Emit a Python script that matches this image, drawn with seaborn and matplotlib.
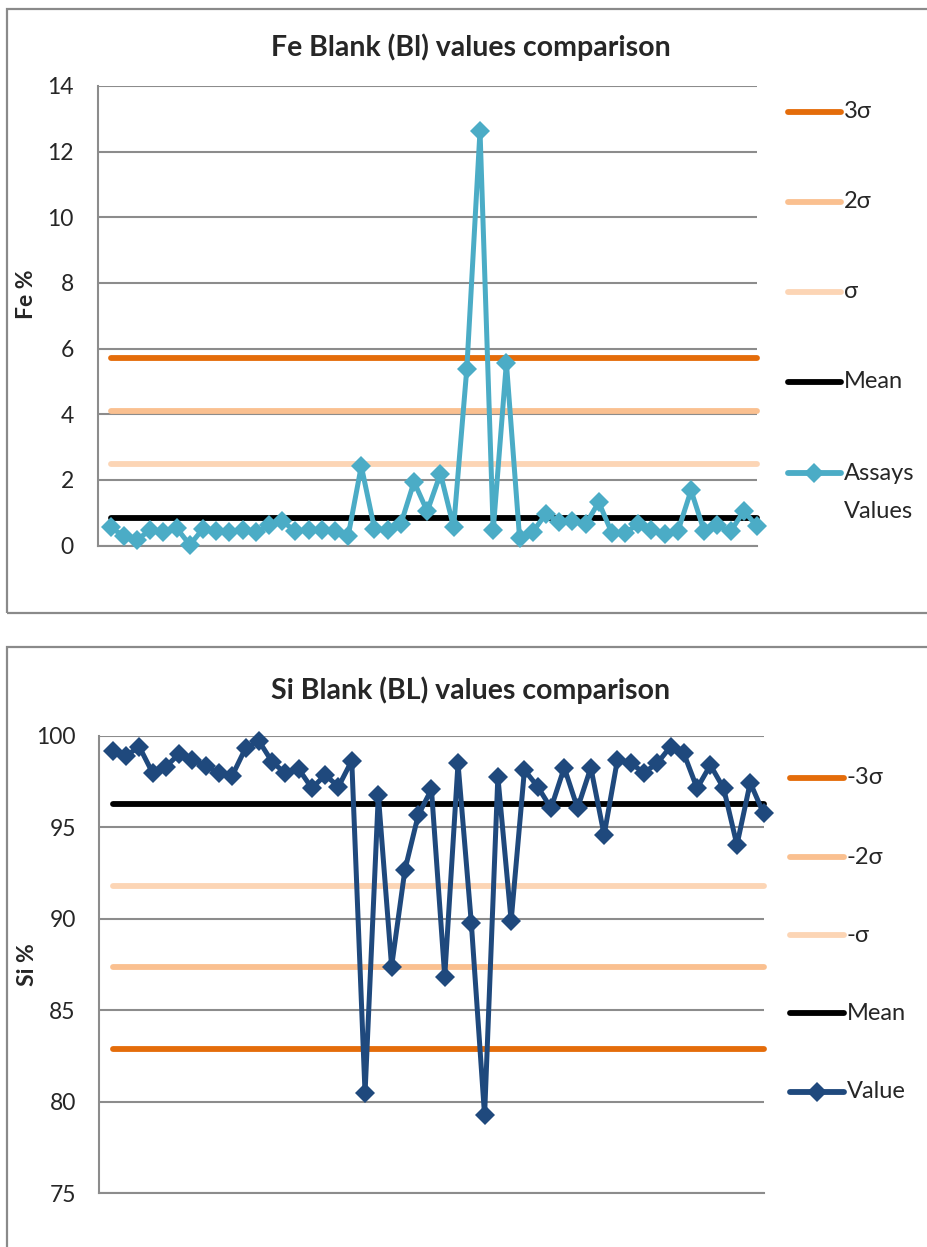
import numpy as np
import pandas as pd
import matplotlib
matplotlib.use("Agg")
import matplotlib.pyplot as plt
from matplotlib.lines import Line2D
from matplotlib.patches import Rectangle
import seaborn as sns

# ---- data -------------------------------------------------------------
sample_no = list(range(1, 51))

fe_values = [0.55, 0.29, 0.17, 0.48, 0.40, 0.53, 0.02, 0.51, 0.43, 0.40,
             0.48, 0.40, 0.61, 0.75, 0.43, 0.48, 0.46, 0.45, 0.28, 2.42,
             0.51, 0.48, 0.66, 1.94, 1.04, 2.19, 0.56, 5.39, 12.64, 0.46,
             5.57, 0.23, 0.41, 0.97, 0.71, 0.74, 0.64, 1.32, 0.38, 0.38,
             0.66, 0.46, 0.36, 0.43, 1.68, 0.43, 0.61, 0.43, 1.05, 0.59]
fe_mean = 0.85
fe_sigma = 1.62
fe_yticks = [0, 2, 4, 6, 8, 10, 12, 14]

si_values = [99.18, 98.91, 99.42, 97.99, 98.32, 99.02, 98.69, 98.38, 97.96, 97.83,
             99.33, 99.74, 98.59, 97.96, 98.20, 97.14, 97.87, 97.23, 98.65, 80.46,
             96.77, 87.39, 92.67, 95.66, 97.08, 86.84, 98.51, 89.79, 79.24, 97.78,
             89.89, 98.14, 97.23, 96.05, 98.27, 96.05, 98.27, 94.59, 98.69, 98.51,
             97.99, 98.51, 99.42, 99.05, 97.14, 98.41, 97.14, 94.04, 97.45, 95.77]
si_mean = 96.27
si_sigma = 4.46
si_yticks = [75, 80, 85, 90, 95, 100]

fe_limit_labels = ["3σ", "2σ", "σ", "Mean"]
fe_limit_levels = [fe_mean + 3 * fe_sigma, fe_mean + 2 * fe_sigma,
                   fe_mean + fe_sigma, fe_mean]
si_limit_labels = ["-3σ", "-2σ", "-σ", "Mean"]
si_limit_levels = [si_mean - 3 * si_sigma, si_mean - 2 * si_sigma,
                   si_mean - si_sigma, si_mean]

# ---- style ------------------------------------------------------------
sns.set_style("white")
plt.rcParams["font.family"] = ["Lato", "DejaVu Sans"]

limit_colors = ["#E46C0A", "#FAC090", "#FCD5B5", "#000000"]
fe_color = "#4BACC6"
si_color = "#1F497D"
grid_color = "#8C8C8C"
W, H = 928, 1247
LIMIT_LW = 4.2
DATA_LW = 3.6
MS = 10.5

fig = plt.figure(figsize=(W / 100, H / 100), dpi=100)

# chart frames
for (y0, y1) in [(9, 613), (647, 1260)]:
    fig.patches.append(Rectangle((7 / W, 1 - y1 / H), (940 - 7) / W, (y1 - y0) / H,
                                 transform=fig.transFigure, fill=False,
                                 edgecolor="#8A8A8A", linewidth=1.6, zorder=0))


def draw_chart(rect, values, levels, level_labels, color, yticks, ylabel,
               title, title_y, series_label, legend_y, label_y, legend_x):
    ax = fig.add_axes(rect)
    ax.set_facecolor("none")
    # control limit lines
    for lvl, col in zip(levels, limit_colors):
        sns.lineplot(x=[sample_no[0], sample_no[-1]], y=[lvl, lvl], ax=ax,
                     color=col, linewidth=LIMIT_LW, solid_capstyle="round",
                     zorder=3)
    # assay values
    df = pd.DataFrame({"n": sample_no, "v": values})
    sns.lineplot(data=df, x="n", y="v", ax=ax, color=color, linewidth=DATA_LW,
                 marker="D", markersize=MS, markeredgewidth=0, zorder=4)
    for ln in ax.get_lines():
        ln.set_clip_on(False)
    ax.set_xlim(0, 50)
    ax.set_ylim(yticks[0], yticks[-1])
    ax.set_yticks(yticks)
    ax.set_xticks([])
    ax.set_xlabel("")
    ax.set_ylabel(ylabel, fontsize=16.5, fontweight="bold")
    ax.yaxis.set_label_coords(-0.092, label_y)
    ax.tick_params(axis="y", length=0, pad=17, labelsize=16.5)
    ax.grid(axis="y", color=grid_color, linewidth=1.5, zorder=1)
    ax.set_axisbelow(True)
    for s in ["top", "right"]:
        ax.spines[s].set_visible(False)
    for s in ["left", "bottom"]:
        ax.spines[s].set_color(grid_color)
        ax.spines[s].set_linewidth(1.5)
    fig.text(471 / W, 1 - title_y / H, title, ha="center", va="center",
             fontsize=20.5, fontweight="bold")
    # legend entries
    handles = [(lbl, col, None) for lbl, col in zip(level_labels, limit_colors)]
    handles.append((series_label, color, "D"))
    for (lbl, col, mk), ly in zip(handles, legend_y):
        yf = 1 - ly / H
        x0, x1 = legend_x[0] / W, legend_x[1] / W
        fig.add_artist(Line2D([x0, x1], [yf, yf], transform=fig.transFigure,
                              color=col, linewidth=LIMIT_LW, solid_capstyle="round"))
        if mk:
            fig.add_artist(Line2D([(x0 + x1) / 2], [yf], transform=fig.transFigure,
                                  color=col, marker=mk, markersize=MS,
                                  markeredgewidth=0, linestyle="none"))
        fig.text(x1 + 3 / W, yf, lbl, ha="left", va="center", fontsize=17)
    return ax


draw_chart([97.5 / W, 1 - 545.5 / H, 659.5 / W, 459.5 / H], fe_values,
           fe_limit_levels, fe_limit_labels, fe_color, fe_yticks, "Fe %",
           "Fe Blank (Bl) values comparison", 47, "Assays", [112, 202, 292, 382, 473],
           0.547, (788, 841))
fig.text((841 + 3) / W, 1 - 511 / H, "Values", ha="left", va="center", fontsize=17)

draw_chart([99.4 / W, 1 - 1193 / H, 664.1 / W, 457 / H], si_values,
           si_limit_levels, si_limit_labels, si_color, si_yticks, "Si %",
           "Si Blank (BL) values comparison", 690, "Value", [778, 857, 935, 1013, 1092],
           0.5, (790, 844))

fig.savefig("out.png", dpi=100)
